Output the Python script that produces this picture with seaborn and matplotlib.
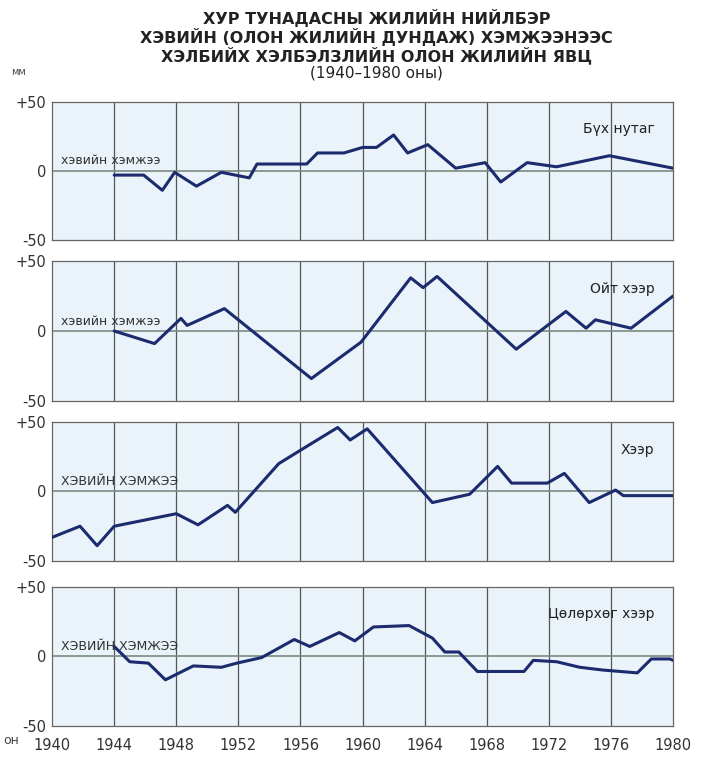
import numpy as np
import pandas as pd
import matplotlib
matplotlib.use("Agg")
import matplotlib.pyplot as plt
import seaborn as sns

# Мэдээлэл: хур тунадасны хэвийн хэмжээнээс хэлбийлт (мм)
years_all = [1944, 1945.9, 1947.1, 1947.9, 1949.3, 1950.9, 1952.7, 1953.2, 1956.4, 1957.1,
             1958.8, 1960, 1960.9, 1962, 1962.9, 1964.2, 1966, 1967.9, 1968.9, 1970.6,
             1972.5, 1975.9, 1980]
vals_all = [-3, -3, -14, -1, -11, -1, -5, 5, 5, 13,
            13, 17, 17, 26, 13, 19, 2, 6, -8, 6,
            3, 11, 2]

years_forest = [1944, 1946.6, 1948.3, 1948.7, 1951.1, 1956.7, 1959.9, 1963.1, 1963.9, 1964.8,
                1969.9, 1973.1, 1974.4, 1975, 1977.3, 1980]
vals_forest = [0, -9, 9, 4, 16, -34, -8, 38, 31, 39,
               -13, 14, 2, 8, 2, 25]

years_steppe = [1940, 1941.8, 1942.9, 1944, 1948, 1949.4, 1951.3, 1951.8, 1954.6, 1956.2,
                1958.4, 1959.2, 1960.3, 1964.5, 1966.9, 1968.7, 1969.6, 1971.9, 1973, 1974.6,
                1976.3, 1976.8, 1980]
vals_steppe = [-33, -25, -39, -25, -16, -24, -10, -15, 20, 31,
               46, 37, 45, -8, -2, 18, 6, 6, 13, -8,
               1, -3, -3]

years_desert = [1944, 1945, 1946.2, 1947.3, 1949.1, 1950.9, 1951.9, 1953.5, 1955.6, 1956.6,
                1958.5, 1959.5, 1960.7, 1963, 1964.5, 1965.3, 1966.2, 1967.4, 1970.4, 1971,
                1972.5, 1974, 1975.5, 1977.7, 1978.6, 1979.8, 1980]
vals_desert = [7, -4, -5, -17, -7, -8, -5, -1, 12, 7,
               17, 11, 21, 22, 13, 3, 3, -11, -11, -3,
               -4, -8, -10, -12, -2, -2, -3]

panel_names = ["Бүх нутаг", "Ойт хээр", "Хээр", "Цөлөрхөг хээр"]
norm_labels = ["хэвийн хэмжээ", "хэвийн хэмжээ", "ХЭВИЙН ХЭМЖЭЭ", "ХЭВИЙН ХЭМЖЭЭ"]
x_ticks = list(range(1940, 1981, 4))
y_ticks = [-50, 0, 50]
y_ticklabels = ["-50", "0", "+50"]

series = [(years_all, vals_all), (years_forest, vals_forest),
          (years_steppe, vals_steppe), (years_desert, vals_desert)]

sns.set_style("white")
fonts = ["Liberation Sans Narrow", "DejaVu Sans Condensed", "DejaVu Sans"]
plt.rcParams["font.family"] = fonts

fig = plt.figure(figsize=(7.04, 7.77), dpi=100)

# панелиудын байрлал (figure fraction)
left, width = 0.074, 0.882
bottoms = [0.691, 0.484, 0.278, 0.066]
heights = [0.178, 0.180, 0.179, 0.179]

line_color = "#1c2a6e"
bg_color = "#e9f3f9"

for i, (yrs, vals) in enumerate(series):
    ax = fig.add_axes([left, bottoms[i], width, heights[i]])
    ax.set_facecolor(bg_color)
    df = pd.DataFrame({"year": yrs, "mm": vals})
    for xv in x_ticks[1:-1]:
        ax.axvline(xv, color="#555555", lw=0.9, zorder=1)
    ax.axhline(0, color="#7a8a80", lw=1.2, zorder=1)
    sns.lineplot(data=df, x="year", y="mm", ax=ax, color=line_color, lw=2.2,
                 zorder=3, estimator=None, sort=False)
    ax.set_xlim(1940, 1980)
    ax.set_ylim(-50, 50)
    ax.set_xticks(x_ticks)
    ax.set_yticks(y_ticks)
    ax.set_yticklabels(y_ticklabels, fontsize=10.5, color="#333333")
    ax.tick_params(axis="y", length=0, pad=4)
    ax.tick_params(axis="x", length=0, pad=9)
    ax.set_xlabel("")
    ax.set_ylabel("")
    if i < 3:
        ax.set_xticklabels([])
    else:
        ax.set_xticklabels([str(x) for x in x_ticks], fontsize=10.5, color="#333333")
    for s in ax.spines.values():
        s.set_color("#666666")
        s.set_linewidth(0.9)
    ax.text(0.97, 0.80, panel_names[i], transform=ax.transAxes, ha="right",
            va="center", fontsize=10, color="#222222")
    ax.text(1940.6, 2.5, norm_labels[i], ha="left", va="bottom", fontsize=9,
            color="#333333", zorder=4)

# гарчиг
fig.text(0.535, 0.977, "ХУР ТУНАДАСНЫ ЖИЛИЙН НИЙЛБЭР", ha="center", va="center",
         fontsize=11.5, fontweight="bold", color="#222222")
fig.text(0.535, 0.953, "ХЭВИЙН (ОЛОН ЖИЛИЙН ДУНДАЖ) ХЭМЖЭЭНЭЭС", ha="center",
         va="center", fontsize=11.5, fontweight="bold", color="#222222")
fig.text(0.535, 0.929, "ХЭЛБИЙХ ХЭЛБЭЛЗЛИЙН ОЛОН ЖИЛИЙН ЯВЦ", ha="center",
         va="center", fontsize=11.5, fontweight="bold", color="#222222")
fig.text(0.535, 0.906, "(1940–1980 оны)", ha="center", va="center",
         fontsize=11, color="#222222")

fig.text(0.026, 0.907, "мм", ha="center", va="center", fontsize=7, color="#444444")
fig.text(0.004, 0.047, "он", ha="left", va="center", fontsize=9, color="#444444")

fig.savefig("out.png", dpi=100, facecolor="white")
